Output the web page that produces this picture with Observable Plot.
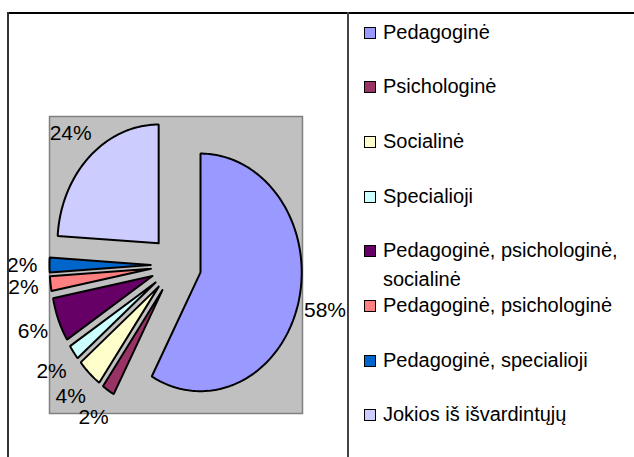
<!DOCTYPE html>
<html>
<head>
<meta charset="utf-8">
<script src="https://cdn.jsdelivr.net/npm/d3@7"></script>
<script src="https://cdn.jsdelivr.net/npm/@observablehq/plot@0.6"></script>
<style>
  html, body { margin: 0; padding: 0; background: #fff; }
  #wrap { position: relative; width: 634px; height: 457px; overflow: hidden; font-family: "Liberation Sans", Arial, sans-serif; }
  #chart { position: absolute; left: 0; top: 0; }
  .hline { position: absolute; left: 7px; top: 12px; width: 627px; height: 2px; background: #000; }
  .vleft { position: absolute; left: 7px; top: 12px; width: 2px; height: 445px; background: #333; }
  .vdiv { position: absolute; left: 347px; top: 12px; width: 1.5px; height: 445px; background: #444; }
  .item { position: absolute; left: 364px; width: 262px; display: flex; align-items: flex-start; font-size: 20px; line-height: 29px; color: #000; }
  .sw { flex: none; width: 10px; height: 10px; border: 1px solid #000; margin-top: 9px; margin-right: 7px; }
</style>
</head>
<body>
<div id="wrap">
  <div id="chart"></div>
  <div class="hline"></div>
  <div class="vleft"></div>
  <div class="vdiv"></div>
  <div id="legend"></div>
</div>
<script>
const categories = [
  "Pedagoginė",
  "Psichologinė",
  "Socialinė",
  "Specialioji",
  "Pedagoginė, psichologinė, socialinė",
  "Pedagoginė, psichologinė",
  "Pedagoginė, specialioji",
  "Jokios iš išvardintųjų"
];
const values = [58, 2, 4, 2, 6, 2, 2, 24];
const labels = ["58%", "2%", "4%", "2%", "6%", "2%", "2%", "24%"];
const colors = ["#9999FF", "#993366", "#FFFFCC", "#CCFFFF", "#660066", "#FF8080", "#0066CC", "#CCCCFF"];

const explode = 0.25;
const labelR = 1.52;
const total = d3.sum(values);
const pts = [];
const lbl = [];
let cum = 0;
values.forEach((v, i) => {
  const a0 = cum / total * 2 * Math.PI;
  cum += v;
  const a1 = cum / total * 2 * Math.PI;
  const mid = (a0 + a1) / 2;
  const ex = explode * Math.sin(mid), ey = explode * Math.cos(mid);
  const cat = categories[i];
  pts.push({cat, x: ex, y: ey});
  const n = Math.max(4, Math.ceil(v * 3.6));
  for (let k = 0; k <= n; k++) {
    const a = a0 + (a1 - a0) * k / n;
    pts.push({cat, x: ex + Math.sin(a), y: ey + Math.cos(a)});
  }
  pts.push({cat, x: ex, y: ey});
  lbl.push({text: labels[i], x: labelR * Math.sin(mid), y: labelR * Math.cos(mid)});
});

const svg = Plot.plot({
  width: 348,
  height: 457,
  marginLeft: 49,
  marginRight: 46,
  marginTop: 116,
  marginBottom: 44,
  x: {domain: [-1.25, 1.25], axis: null},
  y: {domain: [-1.25, 1.25], axis: null},
  color: {domain: categories, range: colors},
  style: {fontFamily: "'Liberation Sans', Arial, sans-serif", background: "transparent", overflow: "visible"},
  marks: [
    Plot.frame({fill: "#c0c0c0", stroke: "#808080", strokeWidth: 1.5}),
    Plot.line(pts, {x: "x", y: "y", z: "cat", fill: "cat", stroke: "#000", strokeWidth: 2, curve: "linear", strokeLinejoin: "miter"}),
    Plot.text(lbl, {x: "x", y: "y", text: "text", fontSize: 21, fill: "#000", textAnchor: "middle", lineAnchor: "middle"})
  ]
});
document.getElementById("chart").appendChild(svg);

const legend = document.getElementById("legend");
const firstCenter = 32, step = 54.7;
categories.forEach((c, i) => {
  const item = document.createElement("div");
  item.className = "item";
  item.style.top = (firstCenter + step * i - 14.5) + "px";
  const sw = document.createElement("div");
  sw.className = "sw";
  sw.style.background = colors[i];
  const t = document.createElement("div");
  t.textContent = c;
  item.appendChild(sw);
  item.appendChild(t);
  legend.appendChild(item);
});
</script>
</body>
</html>
